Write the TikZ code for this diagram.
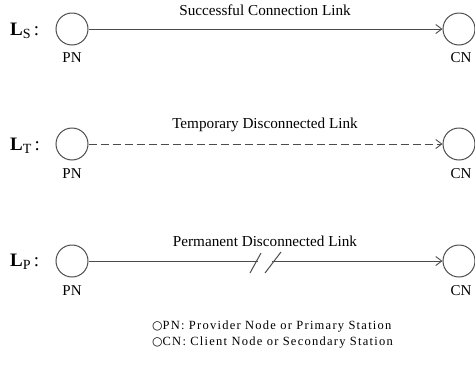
\documentclass[tikz,border=0pt]{standalone}
\usepackage{fontspec}
\setmainfont{Liberation Serif}
\newfontfamily\symfont{DejaVu Sans}
\usetikzlibrary{arrows.meta,calc}
\begin{document}
\begin{tikzpicture}[x=1pt,y=-1pt,
  station/.style={draw=black!70, line width=1pt, circle, minimum size=32pt, inner sep=0pt},
  link/.style={draw=black!70, line width=1pt, -{Straight Barb[length=6pt,width=9pt,line width=0.9pt]}},
  slash/.style={draw=black!70, line width=1pt},
  ttl/.style={font=\fontsize{15.2}{17}\selectfont, inner sep=0pt},
  lbl/.style={font=\fontsize{15}{17}\selectfont, inner sep=0pt},
  rowlbl/.style={font=\fontsize{19}{21}\selectfont, inner sep=0pt, anchor=west},
  leg/.style={font=\fontsize{12.5}{14}\selectfont\addfontfeature{LetterSpace=10}, inner sep=0pt, anchor=west}]
\useasboundingbox (0,0) rectangle (475,365);
% Row 1
\node[rowlbl] (ls) at (10,31) {\textbf{L}{\fontsize{14}{16}\selectfont\raisebox{-3pt}{S}}\,:};
\node[station] (pn1) at (72,29) {};
\node[station] (cn1) at (459,29) {};
\draw[link] (pn1) -- (cn1);
\node[ttl] (t1) at (265,10) {Successful Connection Link};
\node[lbl] (pl1) at (72,58) {PN};
\node[lbl] (cl1) at (461,58) {CN};
% Row 2
\node[rowlbl] (lt) at (10,146) {\textbf{L}{\fontsize{14}{16}\selectfont\raisebox{-3pt}{T}}\,:};
\node[station] (pn2) at (72,144) {};
\node[station] (cn2) at (459,144) {};
\draw[link, dash pattern=on 8pt off 4pt] (pn2) -- (cn2);
\node[ttl] (t2) at (265,125) {Temporary Disconnected Link};
\node[lbl] (pl2) at (72,174) {PN};
\node[lbl] (cl2) at (461,174) {CN};
% Row 3
\node[rowlbl] (lp) at (10,262) {\textbf{L}{\fontsize{14}{16}\selectfont\raisebox{-3pt}{P}}\,:};
\node[station] (pn3) at (72,261) {};
\node[station] (cn3) at (459,261) {};
\draw[link] (pn3) -- (cn3);
\coordinate (m) at (266,261);
\fill[white] ($(m)+(-8,-2)$) rectangle ($(m)+(6,2)$);
\draw[slash] ($(m)+(-16,12)$) -- ($(m)+(-5,-8)$);
\draw[slash] ($(m)+(-1,12)$) -- ($(m)+(15,-9)$);
\node[ttl] (t3) at (265,241) {Permanent Disconnected Link};
\node[lbl] (pl3) at (72,291) {PN};
\node[lbl] (cl3) at (461,291) {CN};
% Legend
\node[leg] (g1) at (152,327) {{\symfont\fontsize{12}{14}\selectfont ○}PN: Provider Node or Primary Station};
\node[leg] (g2) at (152,343) {{\symfont\fontsize{12}{14}\selectfont ○}CN: Client Node or Secondary Station};
\end{tikzpicture}
\end{document}
